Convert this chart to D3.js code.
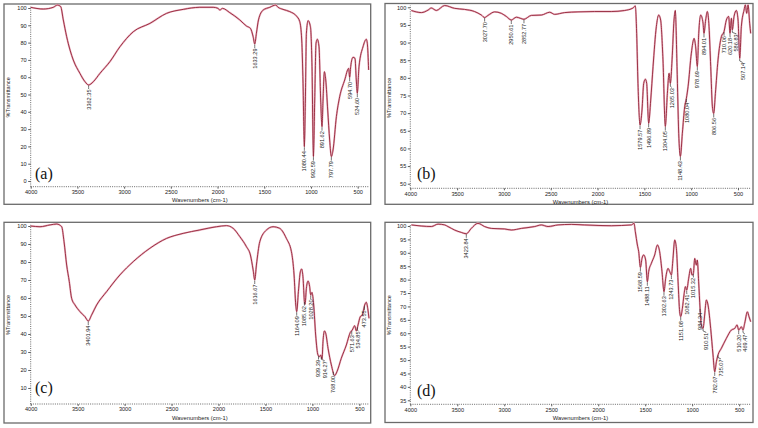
<!DOCTYPE html>
<html><head><meta charset="utf-8">
<script src="https://cdn.jsdelivr.net/npm/d3@7"></script>
<style>body{margin:0;background:#fff}svg{display:block}</style>
</head><body><svg id="chart" width="758" height="428"></svg>
<script>
// ---------- data ----------
const xTicks = [4000,3500,3000,2500,2000,1500,1000,500];
const yTicksA = [0,10,20,30,40,50,60,70,80,90,100];
const yTicksB = [50,55,60,65,70,75,80,85,90,95,100];
const yTicksC = [10,20,30,40,50,60,70,80,90,100];
const yTicksD = [35,40,45,50,55,60,65,70,75,80,85,90,95,100];

const waveA = [4000,3865,3758,3715,3679,3651,3615,3579,3544,3473,3419,3380,3330,3259,3152,3045,2902,2724,2546,2368,2190,2047,1994,1976,1947,1869,1762,1691,1648,1619,1602,1584,1562,1512,1441,1377,1352,1299,1227,1156,1120,1099,1085,1071,1060,1049,1031,1006,989,974,960,946,932,914,896,882,871,857,842,821,800,782,764,728,693,639,597,586,575,550,529,515,504,486,443,408,397,383];
const transA = [100.4,99.4,100.4,101.7,100.8,93.1,83.4,75.7,69.9,62.2,57.4,55.5,57.4,62.2,69.0,77.6,86.3,91.1,96.9,99.2,100.4,100.4,99.8,98.8,99.8,97.3,93.1,89.6,88.2,83.4,79.2,85.4,93.1,98.8,100.4,101.7,100.4,99.2,97.9,95.4,92.1,81.5,56.5,19.8,46.8,85.4,92.7,89.2,66.1,14.1,46.8,79.6,81.9,77.6,46.8,31.4,46.8,63.2,58.4,41.0,23.7,14.1,17.9,37.2,48.7,58.4,65.1,59.9,66.1,71.5,70.9,58.4,50.7,66.1,77.6,81.9,79.6,64.2];
const peakWaveA = [3380,1602,1071,974,882,782,586,504];
const peakTextA = ["3362.35","1633.29","1080.44","992.59","891.62","797.79","594.70","524.60"];

const waveB = [3989,3882,3811,3776,3722,3633,3526,3420,3313,3241,3206,3170,3099,3028,2974,2921,2867,2786,2707,2600,2511,2458,2351,2209,2031,1853,1710,1621,1596,1582,1568,1546,1525,1507,1489,1475,1454,1432,1407,1372,1347,1326,1301,1276,1254,1236,1222,1204,1183,1169,1151,1133,1115,1094,1069,1051,1033,998,969,952,934,919,898,873,863,845,827,809,791,773,759,741,713,677,649,624,599,585,570,560,542,517,499,481,464,435,421,407,392,375,364];
const transB = [99.1,98.5,99.2,99.8,99.1,100.5,99.7,99.4,98.8,97.8,97.1,97.7,98.7,98.3,97.4,96.4,97.2,96.6,97.7,97.8,98.6,98.0,98.5,98.7,98.8,98.8,99.1,99.8,100.4,92.6,78.4,66.6,70.9,78.4,79.6,78.4,67.1,73.7,83.2,94.5,97.8,96.4,85.1,66.2,75.6,81.3,78.4,85.1,96.4,99.1,83.2,64.3,57.7,64.3,71.8,74.2,77.5,87.0,91.2,88.8,83.2,92.6,97.8,95.5,92.6,96.4,98.8,94.5,83.2,71.8,69.9,75.6,85.1,91.7,93.1,96.4,97.4,92.6,96.9,93.6,97.4,99.1,96.4,85.5,94.5,99.2,100.7,98.3,100.7,95.5,92.6];
const peakWaveB = [3206,2921,2786,1546,1454,1276,1222,1115,1051,934,863,759,649,585,560,481];
const peakTextB = ["3027.70","2950.61","2852.77","1579.57","1496.89","1304.05","1265.03","1148.43","1080.04","978.69","894.01","806.56","710.06","620.18","586.83","507.14"];

const waveC = [4000,3901,3794,3723,3670,3645,3617,3589,3564,3528,3475,3422,3387,3351,3298,3192,3050,2908,2731,2553,2376,2199,2021,1915,1844,1773,1702,1660,1631,1614,1596,1560,1489,1419,1348,1277,1223,1195,1177,1167,1149,1128,1114,1099,1085,1078,1064,1046,1029,1018,1004,986,965,940,922,911,897,887,872,858,833,798,763,738,692,638,596,575,550,532,514,490,468,443,426,408,397];
const transC = [100,99.6,100.6,101.1,99.6,91.3,78.3,69.1,59.8,56.1,52.4,49.6,47.2,50.6,56.1,63.5,72.8,80.2,87.6,93.1,95.9,97.8,99.6,100.2,98.7,94.1,88.5,83.9,75.6,70.0,78.3,91.3,97.8,99.6,98.7,93.1,85.7,72.8,56.1,52.4,63.5,74.6,76.1,70.9,58.0,56.5,65.4,69.4,66.3,61.7,63.1,56.1,39.4,28.3,27.4,28.3,26.1,35.7,41.7,40.4,32.0,22.8,16.9,19.1,26.5,33.9,40.9,42.2,44.6,41.7,45.0,49.6,50.6,56.1,57.6,53.3,48.7];
const peakWaveC = [3387,1614,1167,1085,1018,935,905,777,581,520,445];
const peakTextC = ["3401.94","1616.67","1164.09","1085.62","1028.20","939.39","914.27","768.00","571.63","534.85","473.55"];

const waveD = [3989,3883,3776,3705,3634,3599,3528,3457,3404,3351,3280,3209,3138,2996,2925,2818,2676,2605,2534,2428,2286,2144,1860,1647,1619,1605,1583,1569,1551,1534,1516,1495,1477,1463,1434,1399,1370,1346,1321,1300,1282,1257,1239,1221,1204,1186,1168,1150,1133,1122,1104,1087,1072,1058,1037,1016,1001,987,973,955,945,931,916,902,884,867,849,831,803,778,760,742,725,689,636,583,547,522,505,476,459,441,412,395,377];
const transD = [100.4,100,99.8,100.7,100.4,99.8,98.5,97.6,97.1,99.1,101.0,99.8,99.1,98.9,98.5,99.1,99.8,100.4,99.8,100.4,100.6,100.4,100.1,100.4,101.0,97.9,92.9,90.4,84.5,87.9,89.2,87.3,79.2,83.0,86.1,89.2,92.9,90.4,83.0,75.5,80.5,84.2,83.0,81.7,87.9,94.8,91.7,79.2,68.0,66.2,69.3,74.3,77.4,76.1,80.5,84.2,81.7,82.3,87.9,85.4,87.3,79.2,69.3,63.1,61.8,66.8,72.4,70.5,61.8,51.9,45.6,49.4,51.9,54.4,58.1,61.2,61.8,63.1,61.2,62.4,61.2,63.7,68.0,66.2,64.3];
const peakWaveD = [3404,1551,1477,1300,1221,1122,1058,987,916,884,760,725,505,459];
const peakTextD = ["3423.84","1568.59","1488.11","1302.63","1243.73","1151.08","1082.41","1015.32","984.34","910.51","782.07","735.07","510.20","469.47"];

const letters = ["(a)","(b)","(c)","(d)"];
const xTitle = "Wavenumbers (cm-1)";
const yTitle = "%Transmittance";

// ---------- layout ----------
const panels = [
  {wave:waveA, trans:transA, pw:peakWaveA, pt:peakTextA, yTicks:yTicksA, letter:letters[0],
   box:[4,4,370.7,204.3], xr:[30.7,369], xEnd:379, yr:[186.7,8], yDom:[-3.3,100], lt:[35,179]},
  {wave:waveB, trans:transB, pw:peakWaveB, pt:peakTextB, yTicks:yTicksB, letter:letters[1],
   box:[385,3.5,753,204.3], xr:[410.3,750.7], xEnd:364, yr:[188.3,7.3], yDom:[48.7,100], lt:[417,179]},
  {wave:waveC, trans:transC, pw:peakWaveC, pt:peakTextC, yTicks:yTicksC, letter:letters[2],
   box:[4,222.3,370.7,423], xr:[30.7,369], xEnd:397, yr:[404,226], yDom:[1.1,100], lt:[35,393]},
  {wave:waveD, trans:transD, pw:peakWaveD, pt:peakTextD, yTicks:yTicksD, letter:letters[3],
   box:[385,222.3,753,422.5], xr:[410.3,750.7], xEnd:377, yr:[404.3,226], yDom:[33.5,100], lt:[417,396]}
];

const svg = d3.select("#chart");
const FONT = "'Liberation Sans', Arial, sans-serif";
const LINE = "#932438";

panels.forEach(p => {
  const g = svg.append("g");
  const [bx0,by0,bx1,by1] = p.box;
  g.append("rect").attr("x",bx0).attr("y",by0).attr("width",bx1-bx0).attr("height",by1-by0)
    .attr("fill","#fff").attr("stroke","#6b6b6b").attr("stroke-width",1.3);

  const x = d3.scaleLinear().domain([4000,p.xEnd]).range(p.xr);
  const y = d3.scaleLinear().domain(p.yDom).range(p.yr);

  // axes lines (dotted)
  g.append("line").attr("x1",p.xr[0]).attr("x2",p.xr[0]).attr("y1",p.yr[0]).attr("y2",p.yr[1]-2)
    .attr("stroke","#444").attr("stroke-width",0.8).attr("stroke-dasharray","1,1.2");
  g.append("line").attr("x1",p.xr[0]).attr("x2",p.xr[1]).attr("y1",p.yr[0]).attr("y2",p.yr[0])
    .attr("stroke","#444").attr("stroke-width",0.8).attr("stroke-dasharray","1,1.2");

  // y axis
  const ya = d3.axisLeft(y).tickValues(p.yTicks).tickSize(2.5).tickPadding(1.5).tickFormat(d3.format("d"));
  const yg = g.append("g").attr("transform",`translate(${p.xr[0]},0)`).call(ya);
  yg.select(".domain").remove();
  yg.selectAll("line").attr("stroke","#333").attr("stroke-width",0.8);
  yg.selectAll("text").attr("font-family",FONT).attr("font-size",5.6).attr("fill","#222");

  // x axis
  const xa = d3.axisBottom(x).tickValues(xTicks).tickSize(2).tickPadding(1.5).tickFormat(d3.format("d"));
  const xg = g.append("g").attr("transform",`translate(0,${p.yr[0]})`).call(xa);
  xg.select(".domain").remove();
  xg.selectAll("line").attr("stroke","#333").attr("stroke-width",0.8);
  xg.selectAll("text").attr("font-family",FONT).attr("font-size",5.6).attr("fill","#222");

  // titles
  g.append("text").attr("x",(p.xr[0]+p.xr[1])/2).attr("y",p.yr[0]+15.5)
    .attr("text-anchor","middle").attr("font-family",FONT).attr("font-size",5.8).attr("fill","#222").text(xTitle);
  const ym = (p.yr[0]+p.yr[1])/2;
  g.append("text").attr("transform",`translate(${bx0+5.5},${ym}) rotate(-90)`)
    .attr("text-anchor","middle").attr("font-family",FONT).attr("font-size",5.6).attr("fill","#222").text(yTitle);

  // curve
  const pts = p.wave.map((w,i)=>[w,p.trans[i]]);
  const line = d3.line().x(d=>x(d[0])).y(d=>y(d[1])).curve(d3.curveMonotoneX);
  g.append("path").attr("d",line(pts)).attr("fill","none").attr("stroke","#eab3c1").attr("stroke-width",1.9).attr("stroke-linejoin","round");
  g.append("path").attr("d",line(pts)).attr("fill","none").attr("stroke",LINE).attr("stroke-width",0.9).attr("stroke-linejoin","round");

  // peak labels (with simple horizontal de-overlap)
  const interp = d3.scaleLinear().domain(p.wave).range(p.trans);
  let lastLx = -1e9;
  p.pw.forEach((w,i) => {
    const px = x(w), py = y(interp(w));
    const lx = Math.max(px, lastLx + 6.2);
    lastLx = lx;
    g.append("path").attr("d",`M${px},${py+0.5}L${px},${py+2.5}L${lx},${py+4}`)
      .attr("fill","none").attr("stroke","#333").attr("stroke-width",0.7);
    g.append("text").attr("transform",`translate(${lx+2},${py+4.5}) rotate(-90)`)
      .attr("text-anchor","end").attr("font-family",FONT).attr("font-size",5.6).attr("fill","#222")
      .text(p.pt[i]);
  });

  // panel letter
  g.append("text").attr("x",p.lt[0]).attr("y",p.lt[1]).attr("font-family","'Liberation Serif', 'Times New Roman', serif")
    .attr("font-size",16).attr("fill","#111").text(p.letter);
});
</script></body></html>
